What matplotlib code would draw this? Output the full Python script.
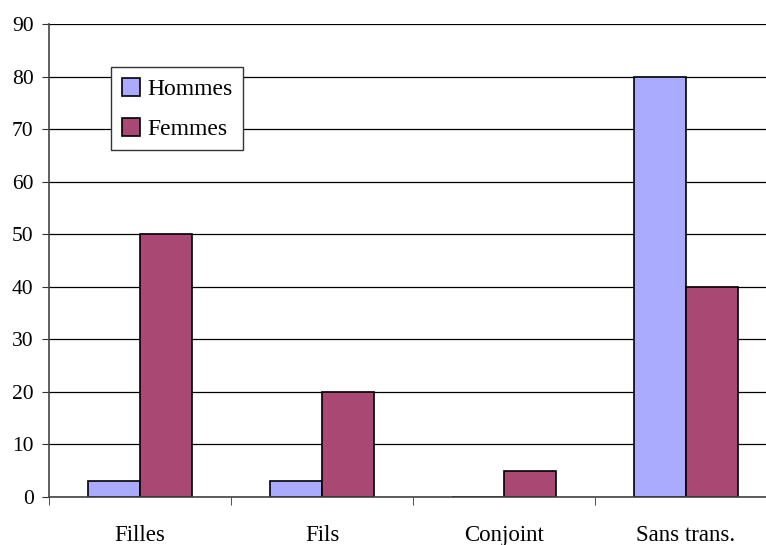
import matplotlib
matplotlib.use("Agg")
import matplotlib.pyplot as plt
import numpy as np

categories = ["Filles", "Fils", "Conjoint", "Sans trans."]
hommes = [3, 3, 0, 80]
femmes = [50, 20, 5, 40]

plt.rcParams['font.family'] = ['Liberation Serif', 'DejaVu Serif']

fig = plt.figure(figsize=(7.66, 5.45), dpi=100)
# the plot area runs a bit past the right edge, as in the original
ax = fig.add_axes([49 / 766, 48 / 545, 728 / 766, 473 / 545])

x = np.arange(len(categories))
w = 1 / 3.5
ax.bar(x - w / 2, hommes, w, color="#AAAAFF", edgecolor="black", linewidth=1.2,
       label="Hommes", zorder=3)
ax.bar(x + w / 2, femmes, w, color="#A94873", edgecolor="black", linewidth=1.2,
       label="Femmes", zorder=3)

ax.set_xlim(-0.5, len(categories) - 0.5)
ax.set_ylim(0, 90)
ax.set_yticks(range(0, 91, 10))
ax.yaxis.grid(True, color="black", linewidth=0.9, zorder=0)
ax.set_xticks(x)
ax.set_xticklabels(categories)
ax.set_xticks(np.arange(-0.5, len(categories) - 0.4, 1), minor=True)
ax.tick_params(axis="x", which="major", length=0, pad=20.5, labelsize=16.5)
ax.tick_params(axis="x", which="minor", length=6, color="#333333")
ax.tick_params(axis="y", length=5, color="#333333", labelsize=15.5, pad=6)

for s in ["top", "right"]:
    ax.spines[s].set_visible(False)
for s in ["left", "bottom"]:
    ax.spines[s].set_color("#444444")
    ax.spines[s].set_linewidth(1.2)
    ax.spines[s].set_zorder(4)

leg = ax.legend(loc="upper left", bbox_to_anchor=(0.085, 0.909), borderaxespad=0,
                fancybox=False, edgecolor="#333333", framealpha=1, fontsize=17,
                handlelength=0.8, handleheight=0.8, handletextpad=0.3,
                labelspacing=0.75, borderpad=0.45)
leg.get_frame().set_linewidth(1.0)

fig.savefig("out.png", dpi=100)
